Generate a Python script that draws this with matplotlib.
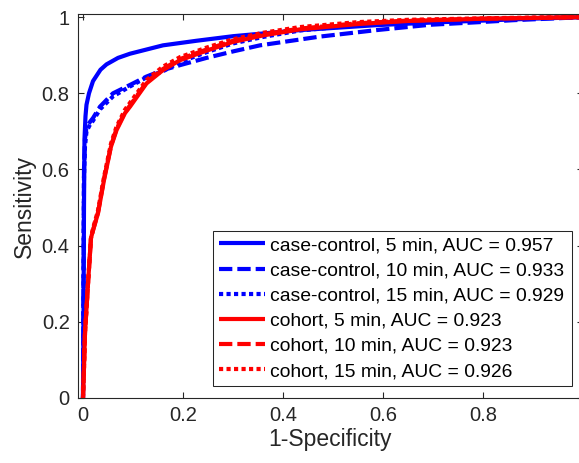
import matplotlib
matplotlib.use('Agg')
import matplotlib.pyplot as plt

plt.rcParams['font.family'] = ['Liberation Sans', 'DejaVu Sans']

# ROC points (FPR = 1-Specificity, TPR = Sensitivity)
cc5_x = [0, 0.001, 0.002, 0.003, 0.005, 0.007, 0.012, 0.02, 0.035, 0.047, 0.07, 0.094, 0.127, 0.16, 0.227, 0.3, 0.434, 0.587, 0.7, 0.8, 0.9, 1.0]
cc5_y = [0, 0.2, 0.5, 0.68, 0.74, 0.77, 0.80, 0.832, 0.862, 0.876, 0.893, 0.904, 0.915, 0.926, 0.938, 0.95, 0.966, 0.979, 0.986, 0.991, 0.996, 1.0]

cc10_x = [0, 0.001, 0.002, 0.004, 0.007, 0.014, 0.02, 0.034, 0.06, 0.094, 0.127, 0.16, 0.194, 0.247, 0.3, 0.354, 0.474, 0.587, 0.694, 0.794, 0.86, 0.93, 1.0]
cc10_y = [0, 0.3, 0.6, 0.68, 0.712, 0.725, 0.735, 0.765, 0.80, 0.822, 0.844, 0.861, 0.874, 0.893, 0.91, 0.926, 0.949, 0.966, 0.98, 0.987, 0.992, 0.996, 1.0]

cc15_x = [0, 0.001, 0.002, 0.004, 0.007, 0.014, 0.02, 0.034, 0.06, 0.094, 0.127, 0.16, 0.194, 0.247, 0.3, 0.36, 0.434, 0.55, 0.65, 0.8, 0.9, 1.0]
cc15_y = [0, 0.3, 0.58, 0.66, 0.70, 0.718, 0.728, 0.758, 0.792, 0.818, 0.842, 0.858, 0.882, 0.908, 0.931, 0.948, 0.965, 0.979, 0.988, 0.995, 0.998, 1.0]

co5_x = [0, 0.002, 0.004, 0.01, 0.016, 0.02, 0.03, 0.042, 0.056, 0.067, 0.084, 0.094, 0.127, 0.16, 0.194, 0.247, 0.3, 0.36, 0.434, 0.55, 0.65, 0.8, 0.9, 1.0]
co5_y = [0, 0.08, 0.17, 0.3, 0.42, 0.44, 0.485, 0.572, 0.66, 0.703, 0.748, 0.765, 0.826, 0.861, 0.887, 0.912, 0.935, 0.952, 0.968, 0.982, 0.99, 0.996, 0.998, 1.0]

co10_x = [0, 0.002, 0.004, 0.01, 0.016, 0.02, 0.03, 0.042, 0.056, 0.067, 0.084, 0.094, 0.127, 0.16, 0.194, 0.247, 0.3, 0.36, 0.434, 0.55, 0.65, 0.8, 0.9, 1.0]
co10_y = [0, 0.08, 0.17, 0.3, 0.42, 0.44, 0.487, 0.575, 0.662, 0.706, 0.751, 0.768, 0.829, 0.864, 0.89, 0.915, 0.938, 0.955, 0.97, 0.984, 0.991, 0.996, 0.998, 1.0]

co15_x = [0, 0.002, 0.004, 0.01, 0.016, 0.02, 0.03, 0.042, 0.056, 0.067, 0.084, 0.094, 0.127, 0.16, 0.194, 0.247, 0.3, 0.36, 0.434, 0.55, 0.65, 0.8, 0.9, 1.0]
co15_y = [0, 0.08, 0.17, 0.3, 0.42, 0.445, 0.492, 0.58, 0.668, 0.712, 0.757, 0.775, 0.835, 0.87, 0.895, 0.92, 0.942, 0.959, 0.974, 0.987, 0.993, 0.997, 0.999, 1.0]

labels = ['case-control, 5 min, AUC = 0.957',
          'case-control, 10 min, AUC = 0.933',
          'case-control, 15 min, AUC = 0.929',
          'cohort, 5 min, AUC = 0.923',
          'cohort, 10 min, AUC = 0.923',
          'cohort, 15 min, AUC = 0.926']

# the picture is cropped just before x = 1, so that label is not shown
xticks = [0, 0.2, 0.4, 0.6, 0.8, 1.0]
xticklabels = ['0', '0.2', '0.4', '0.6', '0.8', '']
yticks = [0, 0.2, 0.4, 0.6, 0.8, 1.0]
yticklabels = ['0', '0.2', '0.4', '0.6', '0.8', '1']

dark = '#262626'
dashed = (0, (3.2, 1.2))
dotted = (0, (1.0, 0.8))

fig = plt.figure(figsize=(5.79, 4.63), dpi=100)
ax = fig.add_axes([0.1347, 0.1404, 0.8722, 0.8283])

series = [
    (cc5_x, cc5_y, 'blue', '-'),
    (cc10_x, cc10_y, 'blue', dashed),
    (cc15_x, cc15_y, 'blue', dotted),
    (co5_x, co5_y, 'red', '-'),
    (co10_x, co10_y, 'red', dashed),
    (co15_x, co15_y, 'red', dotted),
]
for (xx, yy, col, ls), lab in zip(series, labels):
    ax.plot(xx, yy, color=col, linestyle=ls, linewidth=3, label=lab,
            solid_capstyle='butt', dash_capstyle='butt')

ax.set_xlim(-0.01, 1.0)
ax.set_ylim(0, 1.007)
ax.set_xticks(xticks)
ax.set_xticklabels(xticklabels)
ax.set_yticks(yticks)
ax.set_yticklabels(yticklabels)
ax.tick_params(direction='in', length=4, width=0.8, colors=dark, labelsize=14.5,
               top=True, right=True, pad=6)
for sp in ax.spines.values():
    sp.set_color(dark)
    sp.set_linewidth(0.8)

ax.set_xlabel('1-Specificity', fontsize=16.5, color=dark, labelpad=2)
ax.set_ylabel('Sensitivity', fontsize=16.5, color=dark, labelpad=4)

leg = ax.legend(loc='lower left', mode='expand',
                bbox_to_anchor=(213 / 579, (463 - 386) / 463, 359 / 579, 156 / 463),
                bbox_transform=fig.transFigure, borderaxespad=0,
                fontsize=13.9, handlelength=2.4, handletextpad=0.27,
                labelspacing=0.4, borderpad=0.3, fancybox=False, framealpha=1)
leg.get_frame().set_edgecolor(dark)
leg.get_frame().set_linewidth(0.75)
for t in leg.get_texts():
    t.set_color('black')

fig.savefig('out.png', dpi=100)
